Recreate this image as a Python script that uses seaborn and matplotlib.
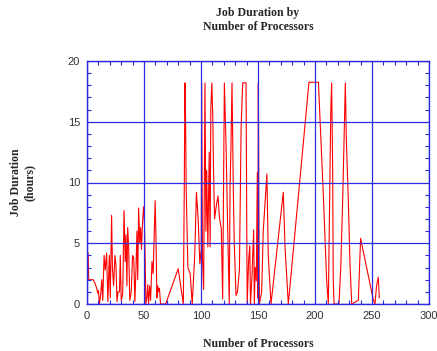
import matplotlib
matplotlib.use("Agg")
import matplotlib.pyplot as plt
import seaborn as sns
import pandas as pd
from matplotlib.ticker import MultipleLocator

processors = [1, 1.5, 5.5, 7, 8.5, 9.4, 10, 10.9, 12, 13, 13.8, 15, 16, 17.2, 18.3, 19.6, 20.4,
              21.6, 22.3, 23.3, 24.5, 25.4, 26.3, 27.2, 28.5, 29.2, 30, 31.3, 32.5, 33.5, 34.2,
              35, 35.7, 36.5, 37.5, 38.8, 40, 41, 42, 43, 43.8, 44.5, 45.3, 46.2, 47, 47.8, 48.6,
              49.6, 50.3, 51, 51.6, 52.5, 53.3, 54, 55, 55.8, 57, 58, 59.8, 60.5, 61.3, 62, 62.8,
              63.5, 64.5, 69, 80, 84.5, 85.3, 85.9, 86.5, 87, 88.5, 90.5, 92.3, 94.5, 96, 97.5,
              99, 100.2, 100.6, 101.3, 102.3, 103.5, 104.3, 105, 106, 107.2, 108, 108.6, 109.5,
              110.3, 111, 111.9, 113, 114.9, 116.3, 117.8, 119, 120.5, 122, 123.4, 124.8, 125.5,
              126.3, 127.2, 128.4, 129.2, 130.7, 132, 133.7, 135.2, 136.6, 139.5, 140, 140.5,
              141.8, 142.8, 143.4, 144.7, 145.2, 146.2, 146.8, 147.5, 148.5, 149.4, 149.8, 150.3,
              150.7, 151.2, 153.2, 154.6, 156, 157.8, 159, 160.5, 161.4, 172.2, 173.7, 176.6,
              194.7, 203, 207.3, 210.2, 211.7, 213.8, 214.6, 215.5, 216, 216.7, 221, 222.6,
              224.4, 225.6, 226.6, 227.5, 229.2, 230.7, 232.2, 238, 240, 251, 252.6, 254,
              255.5, 256.4]
duration_hours = [4.2, 2.0, 2.0, 1.7, 1.3, 0.9, 1.1, 0.0, 0.8, 2.0, 0.3, 4.0, 2.8, 4.2, 0.2, 4.0, 0.5,
                  7.3, 3.0, 1.5, 4.0, 3.2, 0.2, 1.0, 1.0, 4.0, 0.3, 0.8, 7.7, 3.5, 5.7,
                  1.5, 6.3, 4.8, 0.3, 1.0, 4.0, 3.8, 0.2, 3.0, 6.0, 2.0, 7.9, 5.0, 6.3, 4.5, 6.5,
                  8.0, 7.0, 4.0, 0.0, 0.5, 1.6, 0.0, 1.5, 0.3, 3.5, 2.5, 8.5, 5.5, 0.5, 1.5, 1.0,
                  1.3, 0.0, 0.0, 2.9, 0.0, 9.2, 18.2, 15.0, 9.5, 3.0, 2.5, 0.0, 4.0, 9.2, 7.0,
                  3.3, 4.5, 18.2, 3.8, 1.2, 18.2, 6.0, 11.0, 4.7, 12.5, 4.7, 16.0, 18.2,
                  15.5, 11.0, 7.0, 7.8, 8.9, 7.0, 6.2, 0.4, 18.2, 13.0, 6.2, 0.0, 9.7,
                  13.0, 18.2, 9.0, 5.0, 0.7, 1.0, 2.8, 14.6, 18.2, 18.2, 9.3, 0.0,
                  3.6, 4.8, 0.0, 2.2, 3.7, 6.1, 0.0, 3.0, 1.9, 10.8, 0.5, 18.2,
                  9.1, 0.0, 1.0, 6.0, 8.0, 10.7, 4.0, 1.5, 0.0, 9.2, 4.7, 0.0,
                  18.25, 18.25, 9.0, 2.0, 0.0, 15.7, 18.2, 11.1, 2.0, 0.0, 0.0, 3.0,
                  9.0, 13.9, 18.2, 13.5, 8.6, 3.3, 0.0, 0.3, 5.4, 0.4, 0.0, 1.5,
                  2.2, 0.5]

x_ticks = [0, 50, 100, 150, 200, 250, 300]
y_ticks = [0, 5, 10, 15, 20]

df = pd.DataFrame({"processors": processors, "hours": duration_hours})

sns.set_style("white")
fig = plt.figure(figsize=(4.37, 3.51), dpi=100)
ax = fig.add_axes([87 / 437, 1 - 304 / 351, (429 - 87) / 437, (304 - 61) / 351])

sns.lineplot(data=df, x="processors", y="hours", ax=ax, sort=False, estimator=None,
             color="#ff0000", linewidth=0.8, zorder=2)

blue = "#2a2ae0"
ax.set_xlim(0, 300)
ax.set_ylim(0, 20)
ax.set_xticks(x_ticks)
ax.set_yticks(y_ticks)
ax.xaxis.set_minor_locator(MultipleLocator(10))
ax.yaxis.set_minor_locator(MultipleLocator(1))
ax.grid(True, which="major", color=blue, linewidth=0.9, zorder=3)
ax.set_axisbelow(False)
for s in ax.spines.values():
    s.set_color(blue)
    s.set_linewidth(1.0)
    s.set_zorder(4)
ax.tick_params(which="major", length=0, labelsize=8, labelcolor="#333333", pad=5)
ax.tick_params(which="minor", direction="in", length=3, width=0.8, color=blue,
               top=True, right=True, bottom=True, left=True)
for lab in ax.get_xticklabels() + ax.get_yticklabels():
    lab.set_fontfamily("Liberation Sans")

serif = {"family": "Liberation Serif", "weight": "bold", "size": 8.5}
ax.set_xlabel("Number of Processors", fontdict=serif, labelpad=12)
ax.set_ylabel("Job Duration\n(hours)", fontdict=serif, labelpad=23, linespacing=1.15)
fig.text(258 / 437, 1 - 19.7 / 351, "Job Duration by\nNumber of Processors", ha="center",
         va="center", fontdict=serif, linespacing=1.2)

fig.savefig("out.png", dpi=100, facecolor="white")
